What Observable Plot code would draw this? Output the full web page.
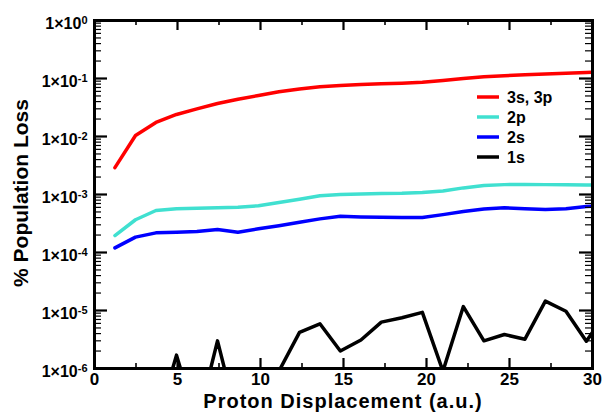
<!DOCTYPE html>
<html>
<head>
<meta charset="utf-8">
<script src="https://cdn.jsdelivr.net/npm/d3@7"></script>
<script src="https://cdn.jsdelivr.net/npm/@observablehq/plot@0.6"></script>
<style>
  html, body { margin: 0; padding: 0; background: #fff; }
  svg { display: block; }
</style>
</head>
<body>
<script>
// ---- data ----
const displacement = [1.23, 2.47, 3.70, 4.94, 6.17, 7.41, 8.64, 9.88, 11.11, 12.35, 13.58, 14.81, 16.05, 17.28, 18.52, 19.75, 20.99, 22.22, 23.46, 24.69, 25.93, 27.16, 28.40, 29.63, 30.86];
const loss3s3p = [2.9e-3, 1.04e-2, 1.75e-2, 2.4e-2, 3.0e-2, 3.7e-2, 4.4e-2, 5.1e-2, 5.9e-2, 6.6e-2, 7.2e-2, 7.6e-2, 7.9e-2, 8.1e-2, 8.3e-2, 8.6e-2, 9.2e-2, 1.0e-1, 1.07e-1, 1.12e-1, 1.16e-1, 1.20e-1, 1.23e-1, 1.27e-1, 1.3e-1];
const loss2p = [1.96e-4, 3.67e-4, 5.3e-4, 5.7e-4, 5.8e-4, 5.9e-4, 6.0e-4, 6.4e-4, 7.3e-4, 8.3e-4, 9.5e-4, 1.0e-3, 1.02e-3, 1.04e-3, 1.05e-3, 1.08e-3, 1.15e-3, 1.3e-3, 1.43e-3, 1.48e-3, 1.49e-3, 1.48e-3, 1.47e-3, 1.46e-3, 1.46e-3];
const loss2s = [1.2e-4, 1.84e-4, 2.18e-4, 2.24e-4, 2.3e-4, 2.5e-4, 2.24e-4, 2.56e-4, 2.9e-4, 3.33e-4, 3.8e-4, 4.2e-4, 4.1e-4, 4.05e-4, 4.0e-4, 4.0e-4, 4.5e-4, 5.1e-4, 5.6e-4, 5.9e-4, 5.7e-4, 5.5e-4, 5.7e-4, 6.2e-4, 6.4e-4];
const loss1s = [1e-7, 1e-7, 1e-7, 1.7e-6, 1.1e-7, 3.0e-6, 1.2e-7, 1e-7, 9e-7, 4.2e-6, 5.9e-6, 2.0e-6, 3.1e-6, 6.3e-6, 7.5e-6, 9.3e-6, 9e-7, 1.17e-5, 3.0e-6, 3.85e-6, 3.2e-6, 1.45e-5, 9.7e-6, 2.95e-6, 9.5e-6];

const seriesNames = ["3s, 3p", "2p", "2s", "1s"];
const seriesColors = ["#ff0000", "#40e0d0", "#0000ff", "#000000"];
const seriesValues = [loss3s3p, loss2p, loss2s, loss1s];

const xTicks = [0, 5, 10, 15, 20, 25, 30];
const xTickLabels = ["0", "5", "10", "15", "20", "25", "30"];
const xMinorTicks = [2.5, 7.5, 12.5, 17.5, 22.5, 27.5];
const yTicks = [1e-6, 1e-5, 1e-4, 1e-3, 1e-2, 1e-1, 1];
const yTickLabels = ["1×10|-6", "1×10|-5", "1×10|-4", "1×10|-3", "1×10|-2", "1×10|-1", "1×10|0"];
const yMinorTicks = [];
for (const t of yTicks.slice(0, -1)) for (const m of [2,3,4,5,6,7,8,9]) yMinorTicks.push(t * m);

const xLabel = "Proton Displacement (a.u.)";
const yLabel = "% Population Loss";

// ---- table ----
const rows = [];
seriesNames.forEach((name, s) => {
  displacement.forEach((x, i) => rows.push({series: name, x, y: seriesValues[s][i]}));
});

const W = 613, H = 412;
const mL = 94, mR = 21, mT = 20, mB = 44;
const pw = W - mL - mR, ph = H - mT - mB;
const FONT = "'Liberation Sans', Arial, Helvetica, sans-serif";

const svg = Plot.plot({
  width: W, height: H,
  marginLeft: mL, marginRight: mR, marginTop: mT, marginBottom: mB,
  style: {fontFamily: FONT, background: "#fff", color: "#000"},
  x: {domain: [0, 30]},
  y: {type: "log", domain: [1e-6, 1]},
  color: {domain: seriesNames, range: seriesColors},
  marks: [
    Plot.line(rows, {x: "x", y: "y", z: "series", stroke: "series", strokeWidth: 3.5, clip: true, strokeLinejoin: "round"}),
    // inward ticks
    Plot.ruleX(xTicks, {x: d => d, insetTop: ph - 10, strokeWidth: 2.2}),
    Plot.ruleX(xTicks, {x: d => d, insetBottom: ph - 10, strokeWidth: 2.2}),
    Plot.ruleX(xMinorTicks, {x: d => d, insetTop: ph - 5, strokeWidth: 1.6}),
    Plot.ruleX(xMinorTicks, {x: d => d, insetBottom: ph - 5, strokeWidth: 1.6}),
    Plot.ruleY(yTicks, {y: d => d, insetRight: pw - 13, strokeWidth: 2.2}),
    Plot.ruleY(yTicks, {y: d => d, insetLeft: pw - 13, strokeWidth: 2.2}),
    Plot.ruleY(yMinorTicks, {y: d => d, insetRight: pw - 7, strokeWidth: 1.2}),
    Plot.ruleY(yMinorTicks, {y: d => d, insetLeft: pw - 7, strokeWidth: 1.2}),
    Plot.frame({stroke: "#000", strokeWidth: 3}),
    Plot.axisX({ticks: xTicks, tickSize: 0, tickPadding: 4, label: null,
                tickFormat: d => xTickLabels[xTicks.indexOf(d)]}),
    Plot.axisY({ticks: yTicks, tickSize: 0, tickPadding: 7, label: null, dy: 3.5,
                tickFormat: d => yTickLabels[yTicks.indexOf(d)]})
  ]
});

const s = d3.select(svg);
s.selectAll('g[aria-label="x-axis tick label"]')
  .style("font-size", "17px").style("font-weight", "bold");
s.selectAll('g[aria-label="y-axis tick label"]')
  .style("font-size", "16px").style("font-weight", "bold");

// superscript exponents on y tick labels
s.selectAll("text").each(function() {
  const t = d3.select(this);
  const txt = t.text();
  if (txt.includes("|")) {
    const [base, exp] = txt.split("|");
    t.text("");
    t.append("tspan").text(base);
    t.append("tspan").attr("dy", "-0.45em").style("font-size", "11px").text(exp);
  }
});

// axis titles
s.append("text")
  .attr("x", mL + pw / 2).attr("y", 407.5)
  .attr("text-anchor", "middle")
  .style("font-family", FONT).style("font-weight", "bold").style("font-size", "20px")
  .style("letter-spacing", "1px")
  .text(xLabel);
s.append("text")
  .attr("transform", `translate(28,193) rotate(-90)`)
  .attr("text-anchor", "middle")
  .style("font-family", FONT).style("font-weight", "bold").style("font-size", "21px")
  .text(yLabel);

// legend
const leg = s.append("g")
  .style("font-family", FONT).style("font-weight", "bold").style("font-size", "16px")
  .attr("text-anchor", "start");
seriesNames.forEach((name, i) => {
  const y = 97 + i * 20;
  leg.append("line").attr("x1", 477).attr("x2", 499).attr("y1", y).attr("y2", y)
    .attr("stroke", seriesColors[i]).attr("stroke-width", 3.5);
  leg.append("text").attr("x", 507).attr("y", y).attr("dy", "0.35em").attr("text-anchor", "start").text(name);
});

document.body.append(svg);
</script>
</body>
</html>
